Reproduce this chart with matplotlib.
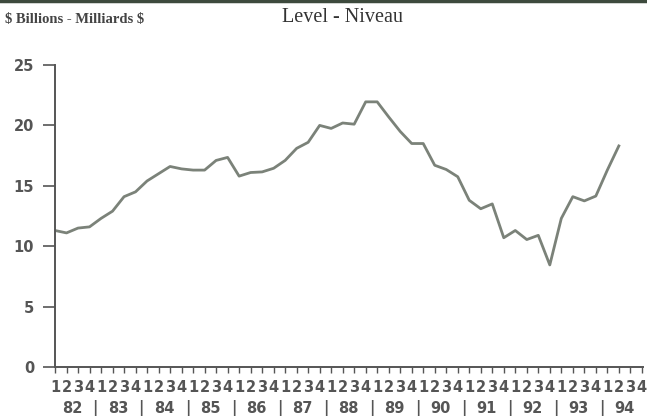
import matplotlib
matplotlib.use("Agg")
import matplotlib.pyplot as plt
import matplotlib.transforms as mtransforms

# quarterly level, 1982Q1 .. 1994Q2 ($ billions)
values = [11.3, 11.1, 11.5, 11.6, 12.3, 12.9, 14.1, 14.5, 15.4, 16.0,
          16.6, 16.4, 16.3, 16.3, 17.1, 17.35, 15.8, 16.1, 16.15, 16.45,
          17.1, 18.1, 18.6, 20.0, 19.75, 20.2, 20.1, 21.95, 21.95, 20.7,
          19.5, 18.5, 18.5, 16.7, 16.35, 15.75, 13.8, 13.1, 13.5, 10.7,
          11.3, 10.55, 10.9, 8.45, 12.3, 14.1, 13.75, 14.15, 16.3, 18.3]
years = ["82", "83", "84", "85", "86", "87", "88", "89", "90", "91", "92", "93", "94"]
quarters = ["1", "2", "3", "4"]
y_ticks = [0, 5, 10, 15, 20, 25]

grey = "#555555"
line_col = "#7b8279"
tick_font = dict(family="DejaVu Sans", fontweight="bold", fontsize=10.5, color=grey)

fig = plt.figure(figsize=(6.47, 4.19), dpi=100)
ax = fig.add_axes([55 / 647, 52 / 419, 588 / 647, 302 / 419])

x = list(range(len(values)))
ax.plot(x, values, color=line_col, lw=2.0)

ax.set_ylim(0, 25)
ax.set_xlim(0, 51.1)
ax.set_yticks(y_ticks)
ax.set_yticklabels([str(v) for v in y_ticks], **tick_font)
ax.tick_params(axis="y", direction="out", length=9, width=1.2, color=grey, pad=6)

n_q = len(years) * 4
ax.set_xticks(range(n_q))
ax.set_xticklabels([quarters[i % 4] for i in range(n_q)], **tick_font)
ax.tick_params(axis="x", direction="out", length=4, width=1, color=grey, pad=5)

for s in ["top", "right"]:
    ax.spines[s].set_visible(False)
for s in ["left", "bottom"]:
    ax.spines[s].set_color(grey)
    ax.spines[s].set_linewidth(1.4)

# year row under the quarter digits
trans = mtransforms.blended_transform_factory(ax.transData, fig.transFigure)
for k, yr in enumerate(years):
    ax.text(4 * k + 1.5, 11 / 419, yr, transform=trans, ha="center", va="center",
            clip_on=False, **tick_font)
    if k < len(years) - 1:
        ax.text(4 * k + 3.5, 11 / 419, "|", transform=trans, ha="center", va="center",
                clip_on=False, **tick_font)

fig.text(5 / 647, 1 - 20 / 419, r"\$ Billions - Milliards \$", family="Liberation Serif",
         fontsize=10.5, fontweight="bold", color="#444444", va="center", ha="left")
fig.text(343 / 647, 1 - 17 / 419, "Level - Niveau", family="Liberation Serif",
         fontsize=14.5, color="#333333", va="center", ha="center")

# dark rule along the top edge
fig.add_artist(plt.Line2D([0, 1], [1 - 1.5 / 419, 1 - 1.5 / 419], transform=fig.transFigure,
                          color="#3d4a3d", lw=2.5))

fig.savefig("out.png", dpi=100)
